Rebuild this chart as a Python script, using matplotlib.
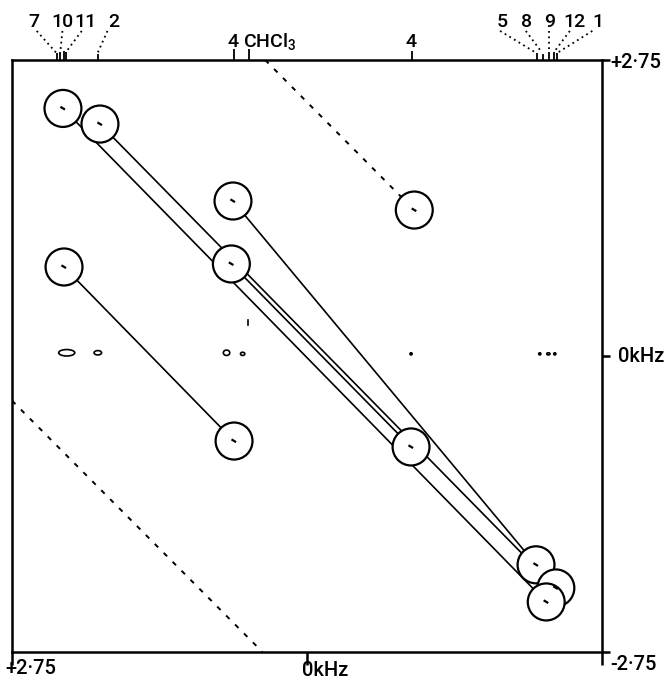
import numpy as np
import matplotlib
matplotlib.use('Agg')
import matplotlib.pyplot as plt
from matplotlib.patches import Circle, Ellipse

plt.rcParams['font.family'] = ['Roboto', 'DejaVu Sans']
plt.rcParams['font.weight'] = 'medium'
plt.rcParams['mathtext.default'] = 'regular'

# cross peaks (kHz): F2 (x), F1 (y)
peak_x = [2.275, 1.93, 0.69, -1.00, 2.265, 0.705, 0.68, -0.97, -2.135, -2.32, -2.23]
peak_y = [2.30, 2.155, 1.44, 1.356, 0.827, 0.855, -0.79, -0.845, -1.94, -2.155, -2.285]
# which peaks are joined by a solid line
links = [(0, 10), (1, 9), (5, 7), (2, 8), (4, 6)]

# 1D trace on top
trace_x = [2.33, 2.30, 2.265, 2.245, 1.95, 0.68, 0.54, -0.98, -2.14, -2.20, -2.26, -2.30, -2.33]
trace_h = [0.065, 0.075, 0.085, 0.075, 0.06, 0.10, 0.10, 0.08, 0.065, 0.06, 0.075, 0.075, 0.065]

top_labels = ['7', '10', '11', '2', '5', '8', '9', '12', '1']
label_x = [2.55, 2.28, 2.065, 1.80, -1.82, -2.05, -2.26, -2.49, -2.71]
lead_from = [2.52, 2.28, 2.10, 1.86, -1.80, -2.04, -2.26, -2.45, -2.66]
lead_to = [2.34, 2.30, 2.25, 1.95, -2.13, -2.19, -2.26, -2.30, -2.34]

# axial (0 kHz) ridge spots
spot_x = [2.24, 1.95, 0.75, 0.60, -0.97, -2.17, -2.25, -2.31]
spot_y = [0.03, 0.03, 0.03, 0.02, 0.02, 0.02, 0.02, 0.02]
spot_w = [0.15, 0.07, 0.06, 0.04, 0.02, 0.02, 0.03, 0.02]
spot_h = [0.06, 0.04, 0.05, 0.03, 0.02, 0.02, 0.02, 0.02]

fig = plt.figure(figsize=(6.68, 6.81), dpi=100)
ax = fig.add_axes([12/668, 29/681, 590/668, 592/681])
ax.set_xlim(2.75, -2.75)
ax.set_ylim(-2.75, 2.75)

for s in ax.spines.values():
    s.set_linewidth(1.8)

ax.set_xticks([2.75, 0, -2.75])
ax.set_yticks([2.75, 0, -2.75])
ax.set_xticklabels([])
ax.set_yticklabels([])
ax.tick_params(axis='x', direction='out', length=9, width=1.8)
ax.tick_params(axis='y', left=False, right=True, direction='out', length=6, width=1.8)

# solid correlation lines
for i, j in links:
    ax.plot([peak_x[i], peak_x[j]], [peak_y[i], peak_y[j]], 'k', lw=1.2, zorder=1)

# dashed diagonals
ax.plot([0.39, peak_x[3]], [2.75, peak_y[3]], color='k', lw=1.4, ls=(0, (2.5, 4)), zorder=1)
ax.plot([2.75, 0.415], [-0.415, -2.75], color='k', lw=1.4, ls=(0, (2.5, 4)), zorder=1)

for x, y in zip(peak_x, peak_y):
    ax.add_patch(Circle((x, y), 0.172, facecolor='white', edgecolor='k', lw=1.6, zorder=2))
    ax.plot([x + 0.015, x - 0.01], [y + 0.01, y - 0.005], 'k', lw=1.6, zorder=3)

for x, y, w, h in zip(spot_x, spot_y, spot_w, spot_h):
    ax.add_patch(Ellipse((x, y), w, h, facecolor='none', edgecolor='k', lw=1.2))
ax.plot([0.55, 0.55], [0.29, 0.33], 'k', lw=1.2)

# top spectrum
ax.vlines(trace_x, 2.75, [2.75 + h for h in trace_h], colors='k', lw=1.3, clip_on=False)
for t, lx, a, b in zip(top_labels, label_x, lead_from, lead_to):
    ax.text(lx, 3.10, t, ha='center', va='center', fontsize=14, clip_on=False)
    ax.plot([a, b], [3.02, 2.82], color='k', lw=1.3, ls=(0, (1, 2)), clip_on=False)
ax.text(0.69, 2.92, '4', ha='center', va='center', fontsize=14, clip_on=False)
ax.text(0.60, 2.92, 'CHCl$_3$', ha='left', va='center', fontsize=14, clip_on=False)
ax.text(-0.97, 2.92, '4', ha='center', va='center', fontsize=14, clip_on=False)

# axis labels
ax.text(2.815, -2.90, '+2·75', ha='left', va='center', fontsize=14.5, clip_on=False)
ax.text(0.05, -2.92, '0kHz', ha='left', va='center', fontsize=14.5, clip_on=False)
ax.text(-2.825, -2.87, '-2·75', ha='left', va='center', fontsize=14.5, clip_on=False)
ax.text(-2.825, 2.73, '+2·75', ha='left', va='center', fontsize=14.5, clip_on=False)
ax.text(-2.90, 0.0, '0kHz', ha='left', va='center', fontsize=14.5, clip_on=False)

fig.savefig('out.png', dpi=100)
